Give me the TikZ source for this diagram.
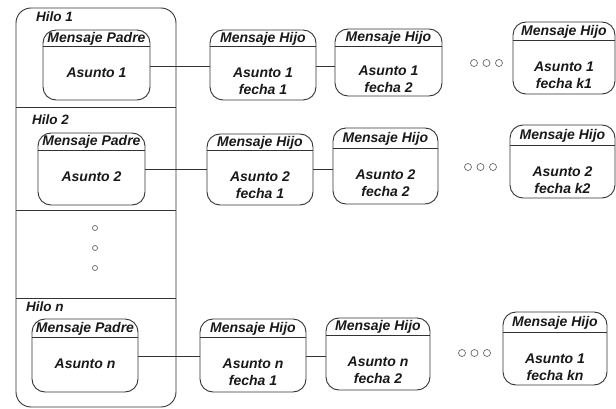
\documentclass[tikz,border=0pt]{standalone}
\usepackage{fontspec}
\setmainfont{Liberation Sans}
\begin{document}
\begin{tikzpicture}[x=1pt,y=-1pt,
  line/.style={draw=black!80, line width=0.9pt},
  msgbox/.style={line, rounded corners=13pt, inner sep=0pt},
  ttl/.style={font=\fontsize{14}{16}\selectfont\bfseries\itshape, inner sep=0pt, text=black!90},
  bdy/.style={font=\fontsize{14}{17}\selectfont\bfseries\itshape, inner sep=0pt, align=center, text=black!90},
  hilo/.style={font=\fontsize{13.5}{16}\selectfont\bfseries\itshape, inner sep=0pt, anchor=west, text=black!90},
  dot/.style={circle, draw=black!60, line width=0.7pt, minimum size=7pt, inner sep=0pt}]
\useasboundingbox (0,0) rectangle (616,409);
% #1 name, #2 x1, #3 y1, #4 x2, #5 y2, #6 header y, #7 title, #8 body y, #9 body
\newcommand\msgnode[9]{%
  \node[msgbox, minimum width={#4-#2}, minimum height={#5-#3}] (#1) at ({(#2+#4)/2},{(#3+#5)/2}) {};
  \draw[line] (#1.west |- 0,#6) -- (#1.east |- 0,#6);
  \node[ttl] (#1t) at ({(#2+#4)/2},{(#3+#6)/2+0.5}) {#7};
  \node[bdy] (#1b) at ({(#2+#4)/2},#8) {#9};
}
% container
\node[line, rounded corners=15pt, minimum width=160pt, minimum height=399pt, inner sep=0pt] (cont) at (96,207.5) {};
\draw[line] (cont.west |- 0,107) -- (cont.east |- 0,107);
\draw[line] (cont.west |- 0,210) -- (cont.east |- 0,210);
\draw[line] (cont.west |- 0,298) -- (cont.east |- 0,298);
\node[hilo] (l1) at (36,17) {Hilo 1};
\node[hilo] (l2) at (32,120) {Hilo 2};
\node[hilo] (ln) at (26,307) {Hilo n};
% row 1
\msgnode{p1}{43}{30}{150}{100}{46}{Mensaje Padre}{73}{Asunto 1}
\msgnode{h11}{210}{30}{316}{100}{46}{Mensaje Hijo}{81}{Asunto 1\\fecha 1}
\msgnode{h12}{335}{29}{442}{96}{46}{Mensaje Hijo}{79}{Asunto 1\\fecha 2}
\msgnode{hk1}{513}{22}{615}{94}{40}{Mensaje Hijo}{75}{Asunto 1\\fecha k1}
\coordinate (c1) at (150,66);
\draw[line] (p1.east |- c1) -- (h11.west |- c1);
\draw[line] (h11.east |- c1) -- (h12.west |- c1);
\node[dot] (d11) at (474,63) {};
\node[dot] (d12) at (486.5,63) {};
\node[dot] (d13) at (499,63) {};
% row 2
\msgnode{p2}{38}{133}{145}{205}{150}{Mensaje Padre}{177}{Asunto 2}
\msgnode{h21}{207}{134}{313}{205}{150}{Mensaje Hijo}{185}{Asunto 2\\fecha 1}
\msgnode{h22}{333}{128}{438}{204}{148}{Mensaje Hijo}{183}{Asunto 2\\fecha 2}
\msgnode{hk2}{510}{125}{615}{198}{145}{Mensaje Hijo}{180}{Asunto 2\\fecha k2}
\coordinate (c2) at (145,169);
\draw[line] (p2.east |- c2) -- (h21.west |- c2);
\draw[line] (h21.east |- c2) -- (h22.west |- c2);
\node[dot] (d21) at (468,167) {};
\node[dot] (d22) at (480.5,167) {};
\node[dot] (d23) at (493,167) {};
% vertical dots
\node[dot, minimum size=5pt] (v1) at (95,228) {};
\node[dot, minimum size=5pt] (v2) at (95,248) {};
\node[dot, minimum size=5pt] (v3) at (95,268) {};
% row n
\msgnode{pn}{32}{319}{138}{392}{337}{Mensaje Padre}{364}{Asunto n}
\msgnode{hn1}{200}{319}{306}{392}{337}{Mensaje Hijo}{372}{Asunto n\\fecha 1}
\msgnode{hn2}{326}{318}{430}{390}{335}{Mensaje Hijo}{370}{Asunto n\\fecha 2}
\msgnode{hkn}{503}{312}{607}{385}{332}{Mensaje Hijo}{367}{Asunto 1\\fecha kn}
\coordinate (cn) at (138,356);
\draw[line] (pn.east |- cn) -- (hn1.west |- cn);
\draw[line] (hn1.east |- cn) -- (hn2.west |- cn);
\node[dot] (dn1) at (462,353) {};
\node[dot] (dn2) at (474.5,353) {};
\node[dot] (dn3) at (487,353) {};
\end{tikzpicture}
\end{document}
